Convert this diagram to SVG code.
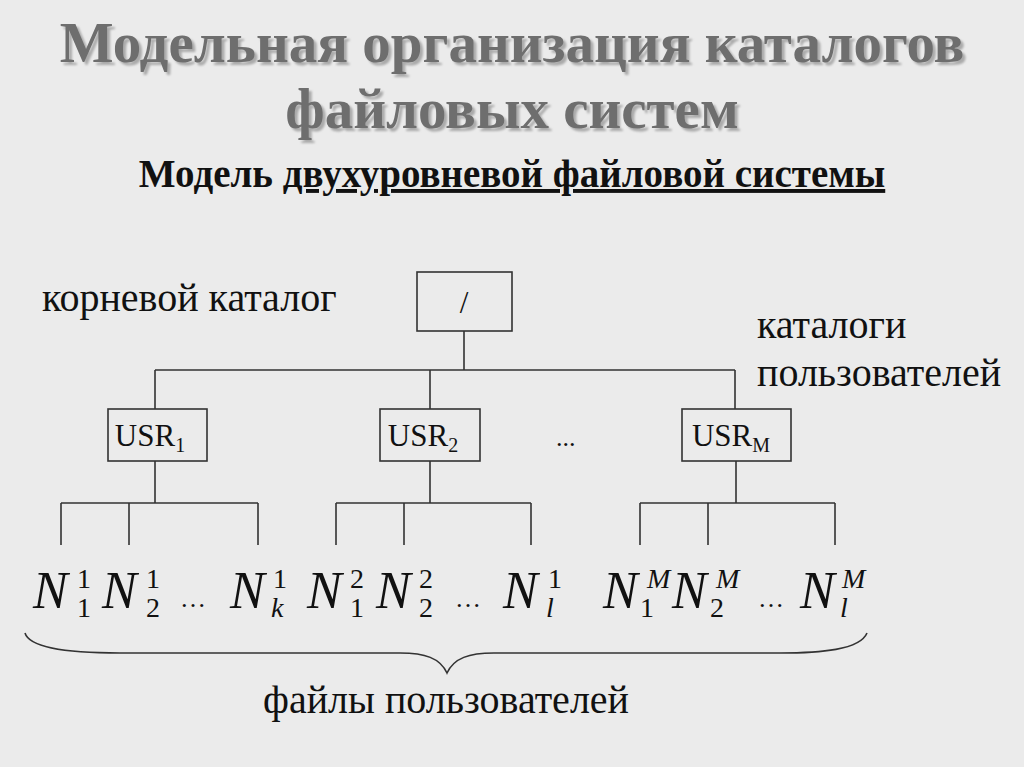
<svg xmlns="http://www.w3.org/2000/svg" width="1024" height="767" viewBox="0 0 1024 767">
<defs><filter id="sh" x="-5%" y="-20%" width="110%" height="140%"><feDropShadow dx="3" dy="3" stdDeviation="1" flood-color="#aaa" flood-opacity="1"/></filter></defs>
<style>
.t{font-family:"Liberation Serif",serif;font-weight:bold;font-size:57px;text-anchor:middle;fill:#6e6e6e}
.l{font-family:"Liberation Serif",serif;font-size:40px;fill:#111}
.b{fill:none;stroke:#333;stroke-width:1.6}
.w{stroke:#333;stroke-width:1.6;fill:none}
.u{font-family:"Liberation Serif",serif;font-size:31px;fill:#111;text-anchor:middle}
.n{font-family:"Liberation Serif",serif;font-style:italic;font-size:52px;fill:#111}
.s{font-family:"Liberation Serif",serif;font-size:28px;fill:#111}
.si{font-family:"Liberation Serif",serif;font-style:italic;font-size:28px;fill:#111}
.d{font-family:"Liberation Serif",serif;font-size:26px;fill:#111}
</style>
<rect width="1024" height="767" fill="#ebebeb"/>
<g id="title" filter="url(#sh)">
<text class="t" x="512" y="62">Модельная организация каталогов</text>
<text class="t" x="512" y="128">файловых систем</text>
</g>
<text x="512" y="187" font-family="Liberation Serif,serif" font-weight="bold" font-size="39" text-anchor="middle" fill="#111">Модель <tspan text-decoration="underline">двухуровневой файловой системы</tspan></text>
<g id="labels">
<text class="l" x="42" y="311">корневой каталог</text>
<text class="l" x="757" y="338">каталоги</text>
<text class="l" x="757" y="386">пользователей</text>
<text class="l" x="446" y="713" text-anchor="middle">файлы пользователей</text>
<text class="d" x="556" y="446">...</text>
</g>
<g id="connectors" class="w">
<path d="M464 331V370M155 370H735M155 370V409M430 370V409M735 370V409"/>
<path d="M155 461V503M61 503H258M61 503V545M129 503V545M258 503V545"/>
<path d="M430 461V503M336 503H531M336 503V545M404 503V545M531 503V545"/>
<path d="M736 461V503M640 503H835M640 503V545M708 503V545M835 503V545"/>
<path d="M25 633C30 650 80 653 120 653H400C425 653 440 658 447 673C454 658 469 653 494 653H780C820 653 860 650 867 633"/>
</g>
<g id="root"><rect class="b" x="417" y="272" width="95" height="59"/><text class="u" x="464" y="313">/</text></g>
<g id="usr1"><rect class="b" x="108" y="409" width="99" height="52"/><text class="u" x="150" y="446">USR<tspan font-size="20" dy="6">1</tspan></text></g>
<g id="usr2"><rect class="b" x="380" y="409" width="100" height="52"/><text class="u" x="423" y="446">USR<tspan font-size="20" dy="6">2</tspan></text></g>
<g id="usrM"><rect class="b" x="682" y="409" width="109" height="52"/><text class="u" x="731" y="446">USR<tspan font-size="20" dy="6">M</tspan></text></g>
<g id="files">
<text class="n" x="33" y="608">N</text><text class="s" x="77" y="588">1</text><text class="s" x="77" y="617">1</text>
<text class="n" x="102" y="608">N</text><text class="s" x="146" y="588">1</text><text class="s" x="146" y="617">2</text>
<text class="d" x="180" y="607">…</text>
<text class="n" x="230" y="608">N</text><text class="s" x="273" y="588">1</text><text class="si" x="271" y="617">k</text>
<text class="n" x="307" y="608">N</text><text class="s" x="350" y="588">2</text><text class="s" x="350" y="617">1</text>
<text class="n" x="376" y="608">N</text><text class="s" x="419" y="588">2</text><text class="s" x="419" y="617">2</text>
<text class="d" x="455" y="607">…</text>
<text class="n" x="503" y="608">N</text><text class="s" x="548" y="588">1</text><text class="si" x="546" y="617">l</text>
<text class="n" x="603" y="608">N</text><text class="si" x="647" y="588">M</text><text class="s" x="640" y="617">1</text>
<text class="n" x="672" y="608">N</text><text class="si" x="716" y="588">M</text><text class="s" x="710" y="617">2</text>
<text class="d" x="758" y="607">…</text>
<text class="n" x="800" y="608">N</text><text class="si" x="842" y="588">M</text><text class="si" x="840" y="617">l</text>
</g>
</svg>
